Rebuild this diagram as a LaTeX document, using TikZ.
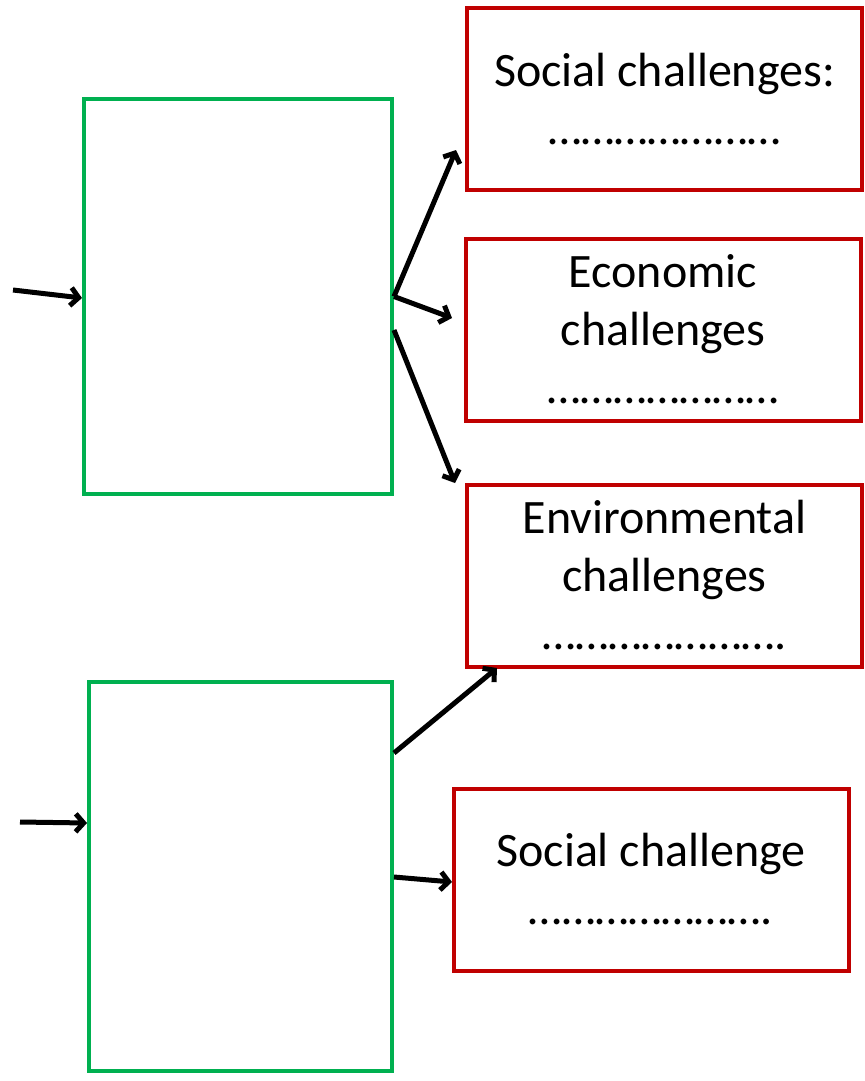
\documentclass[tikz,border=0pt]{standalone}
\usepackage{fontspec}
\setmainfont{Carlito}
\usepackage{xcolor}
\usetikzlibrary{arrows.meta, positioning, calc}
\definecolor{boxgreen}{RGB}{0,176,80}
\definecolor{boxred}{RGB}{192,0,0}
\tikzset{
  % Box styles
  greenbox/.style={rectangle, draw=boxgreen, line width=2pt, minimum width=#1},
  redbox/.style={rectangle, draw=boxred, line width=2pt, minimum width=197.5pt, minimum height=91pt, align=center, font=\fontsize{24}{29}\selectfont, inner sep=0pt},
  arrow/.style={-{Straight Barb[length=4pt, width=9pt]}, line width=2.5pt},
}
\begin{document}
\begin{tikzpicture}[x=0.5pt, y=-0.5pt]
    \useasboundingbox (0,0) rectangle (865,1081);

    % Left boxes
    \node[greenbox=154pt, minimum height=197.5pt] (top) at (238,296.5) {};
    \node[greenbox=151.5pt, minimum height=194.5pt] (bottom) at (240.5,876.5) {};

    % Challenge boxes
    \node[redbox] (social) at (664.5,99) {Social challenges:\\…………………};
    \node[redbox] (economic) at (663,329.5) {Economic\\challenges\\…………………};
    \node[redbox] (environ) at (664.5,575.5) {Environmental\\challenges\\………………….};
    \node[redbox] (social2) at (651,879.5) {Social challenge\\………………….};

    % Free ends
    \coordinate (intop) at (13,290);
    \coordinate (inbottom) at (20,822);
    \coordinate (tipsocial) at (456,150);
    \coordinate (tipeconomic) at (452,318);
    \coordinate (tipenviron) at (455,483);
    \coordinate (tipenviron2) at (497,668);
    \coordinate (tipsocial2) at (452,882);

    % Arrows
    \draw[arrow] (intop) -- ([yshift=-0.75pt]top.west);
    \draw[arrow] (inbottom) -- ([yshift=26.75pt]bottom.west);
    \draw[arrow] (top.east) -- (tipsocial);
    \draw[arrow] (top.east) -- (tipeconomic);
    \draw[arrow] ([yshift=-16.75pt]top.east) -- (tipenviron);
    \draw[arrow] ([yshift=61.75pt]bottom.east) -- (tipenviron2);
    \draw[arrow] ([yshift=-0.25pt]bottom.east) -- (tipsocial2);
  \end{tikzpicture}
\end{document}
